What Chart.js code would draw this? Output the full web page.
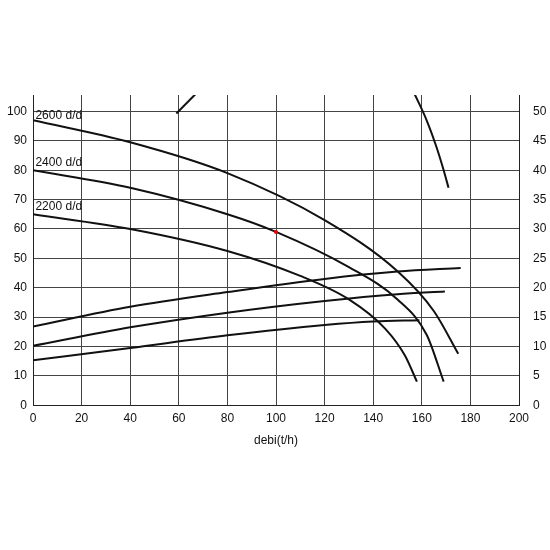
<!DOCTYPE html><html><head><script src="https://cdn.jsdelivr.net/npm/chart.js"></script>
<style>html,body{margin:0;background:#fff}#w{width:550px;height:550px}</style></head><body><div id="w"><canvas id="c"></canvas></div>
<script>
const xTicks=[0,20,40,60,80,100,120,140,160,180,200];
const h2600=[[0,97],[40,89.5],[80,79],[120,63],[150,45.6],[165,32],[175,17.5]];
const h2400=[[0,80],[40,74],[80,65],[100,59],[130,47],[150,36],[162,24],[169,8]];
const h2200=[[0,65],[40,60],[80,52.5],[110,44],[130,36],[145,26],[153,17],[158,8]];
const e1=[[0,26.8],[40,33.5],[80,38.5],[120,43],[150,45.5],[176,46.7]];
const e2=[[0,20.2],[40,26.5],[80,31.5],[120,35.5],[150,37.8],[169.5,38.7]];
const e3=[[0,15.3],[40,19.5],[80,23.8],[120,27.3],[140,28.5],[159,28.9]];
const p1=[[157,106],[162,97],[166,88],[169,80],[171,74]];
const p2=[[59,99.3],[67,106]];
const labels=[["2600 d/d",1,96.5],["2400 d/d",1,80.5],["2200 d/d",1,65.5]];
const pts=a=>a.map(([x,y])=>({x,y}));
const ds=a=>({data:pts(a),borderColor:'#111',borderWidth:2,pointRadius:0,cubicInterpolationMode:'monotone',fill:false});
const lblPlugin={id:'lbl',afterDatasetsDraw(ch){const c=ch.ctx,x=ch.scales.x,y=ch.scales.y;c.save();c.font='12px Arial';c.fillStyle='#111';c.textBaseline='bottom';labels.forEach(([t,a,b])=>c.fillText(t,x.getPixelForValue(a),y.getPixelForValue(b)));
c.fillStyle='#e00';c.beginPath();c.arc(x.getPixelForValue(100),y.getPixelForValue(59),2,0,7);c.fill();c.restore();}};
const font={family:'Arial',size:12};
new Chart(document.getElementById('c'),{type:'line',data:{datasets:[ds(h2600),ds(h2400),ds(h2200),ds(e1),ds(e2),ds(e3),ds(p1),ds(p2)]},
plugins:[lblPlugin],
options:{responsive:true,maintainAspectRatio:false,animation:false,layout:{padding:{top:95,bottom:100,left:0,right:0}},
plugins:{legend:{display:false},tooltip:{enabled:false}},
scales:{x:{type:'linear',min:0,max:200,afterBuildTicks(s){s.ticks=xTicks.map(v=>({value:v}));},grid:{color:'#444',lineWidth:1,drawTicks:false},border:{color:'#222'},ticks:{color:'#111',font,padding:6},title:{display:true,text:'debi(t/h)',color:'#111',font,padding:2}},
y:{min:0,max:105.6,afterBuildTicks(s){s.ticks=[0,10,20,30,40,50,60,70,80,90,100].map(v=>({value:v}));},afterFit(s){s.width=33;},grid:{color:'#444',lineWidth:1,drawTicks:false},border:{color:'#222'},ticks:{color:'#111',font,padding:6}},
y2:{position:'right',min:0,max:52.8,afterBuildTicks(s){s.ticks=[0,5,10,15,20,25,30,35,40,45,50].map(v=>({value:v}));},afterFit(s){s.width=31;},grid:{display:false},border:{color:'#222'},ticks:{color:'#111',font,padding:6}}}}});
</script></body></html>
